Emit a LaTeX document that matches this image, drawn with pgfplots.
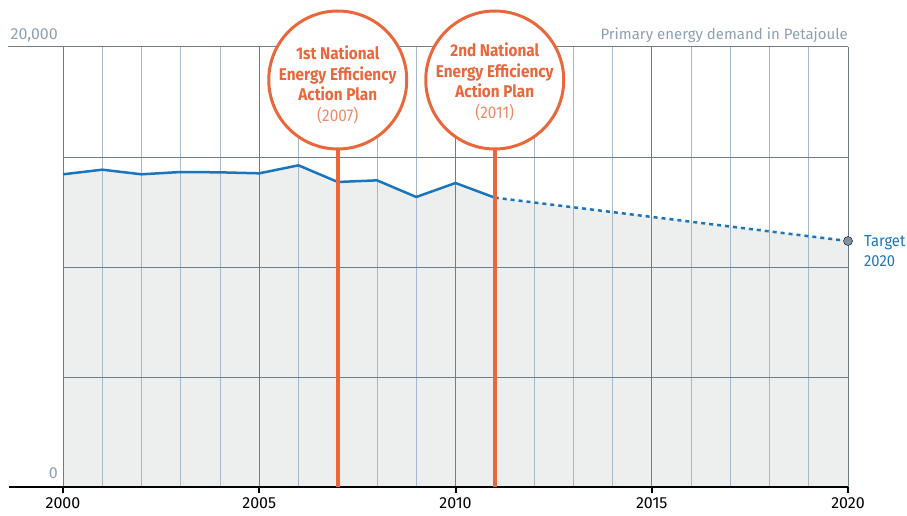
\documentclass[border=0pt]{standalone}
\usepackage{fontspec}
\setmainfont{Fira Sans}
\newfontfamily\circfont[FakeStretch=0.9]{Fira Sans}
\newfontfamily\narrowfont[FakeStretch=0.92]{Fira Sans}
\usepackage{pgfplots}
\pgfplotsset{compat=1.18}
\definecolor{ubaorange}{RGB}{233,103,58}
\definecolor{ubaorangelight}{RGB}{240,140,100}
\definecolor{ubablue}{RGB}{27,117,188}
\definecolor{fillgray}{RGB}{237,239,239}
\definecolor{graytext}{RGB}{139,160,180}
\definecolor{gridmajor}{RGB}{110,125,140}
\definecolor{gridminor}{RGB}{165,183,200}
\definecolor{dotgray}{RGB}{127,146,159}
\begin{document}
\begin{tikzpicture}
\begin{axis}[
 set layers,
 scale only axis, width=785pt, height=440pt,
 at={(63pt,28pt)}, anchor=south west,
 xmin=2000,xmax=2020,ymin=0,ymax=20000,
 clip=false,
 scaled y ticks=false, scaled x ticks=false,
 axis line style={draw=none},
 xtick={2000,2005,2010,2015,2020},
 xticklabels={2000,2005,2010,2015,2020},
 minor xtick={2001,2002,2003,2004,2006,2007,2008,2009,2011,2012,2013,2014,2016,2017,2018,2019},
 ytick={0,5000,10000,15000,20000},
 yticklabels={},
 grid=both,
 major grid style={draw=gridmajor, line width=1pt},
 minor grid style={draw=gridminor, line width=1pt},
 xtick pos=bottom, ytick pos=left,
 tick align=outside,
 major tick length=6pt, minor tick length=0pt,
 xtick style={draw=black, line width=2pt},
 ytick style={draw=none},
 xticklabel style={font=\fontsize{16}{19}\selectfont, text=black, yshift=-1pt},
]
\addplot[draw=none, fill=fillgray, on layer=axis background] coordinates {
 (2000,14214) (2001,14423) (2002,14214) (2003,14318) (2004,14303) (2005,14258)
 (2006,14621) (2007,13864) (2008,13939) (2009,13182) (2010,13818) (2011,13152)
 (2020,11182)} \closedcycle;
\addplot[ubablue, line width=2.5pt, line join=round] coordinates {
 (2000,14214) (2001,14423) (2002,14214) (2003,14318) (2004,14303) (2005,14258)
 (2006,14621) (2007,13864) (2008,13939) (2009,13182) (2010,13818) (2011,13152)};
\addplot[ubablue, line width=2.5pt, dash pattern=on 4pt off 4pt] coordinates {(2011,13152) (2020,11182)};
\addplot[only marks, mark=*, mark size=4.5pt, mark options={fill=dotgray, draw=none}] coordinates {(2020,11182)};

\draw[gridmajor, line width=1pt] ([xshift=-55pt]axis cs:2000,20000) -- (axis cs:2020,20000);
\draw[black, line width=2.5pt] ([xshift=-54pt]axis cs:2000,0) -- (axis cs:2020,0);

\draw[ubaorange, line width=4pt] (axis cs:2007,0) -- (axis cs:2007,18500);
\draw[ubaorange, line width=4pt] (axis cs:2011,0) -- (axis cs:2011,18500);
\node[circle, draw=ubaorange, line width=3pt, fill=white, minimum size=138pt, inner sep=0pt] at (axis cs:2007,18500) {};
\node[circle, draw=ubaorange, line width=3pt, fill=white, minimum size=138pt, inner sep=0pt] at (axis cs:2011,18500) {};
\node[align=center, text=ubaorange, font=\circfont\bfseries\fontsize{17}{20.5}\selectfont] at ([yshift=-5pt]axis cs:2007,18500) {1st National\\Energy Efficiency\\Action Plan\\{\mdseries\color{ubaorangelight}(2007)}};
\node[align=center, text=ubaorange, font=\circfont\bfseries\fontsize{17}{20.5}\selectfont] at ([yshift=-2pt]axis cs:2011,18500) {2nd National\\Energy Efficiency\\Action Plan\\{\mdseries\color{ubaorangelight}(2011)}};

\node[anchor=base east, inner sep=0pt, text=graytext, font=\fontsize{16}{19}\selectfont] at ([xshift=-5pt, yshift=7pt]axis cs:2000,20000) {20,000};
\node[anchor=base east, inner sep=0pt, text=graytext, font=\fontsize{16}{19}\selectfont] at ([xshift=-5pt, yshift=9pt]axis cs:2000,0) {0};
\node[anchor=base east, inner sep=0pt, text=graytext, font=\fontsize{15}{18}\selectfont] at ([yshift=7pt]axis cs:2020,20000) {Primary energy demand in Petajoule};
\node[anchor=base west, inner sep=0pt, text=ubablue, font=\narrowfont\fontsize{16}{19}\selectfont] at ([xshift=16pt, yshift=-6pt]axis cs:2020,11182) {Target};
\node[anchor=base west, inner sep=0pt, text=ubablue, font=\narrowfont\fontsize{16}{19}\selectfont] at ([xshift=16pt, yshift=-26pt]axis cs:2020,11182) {2020};
\end{axis}
\pgfresetboundingbox
\path[use as bounding box] (0,0) rectangle (907pt,515pt);
\end{tikzpicture}
\end{document}
